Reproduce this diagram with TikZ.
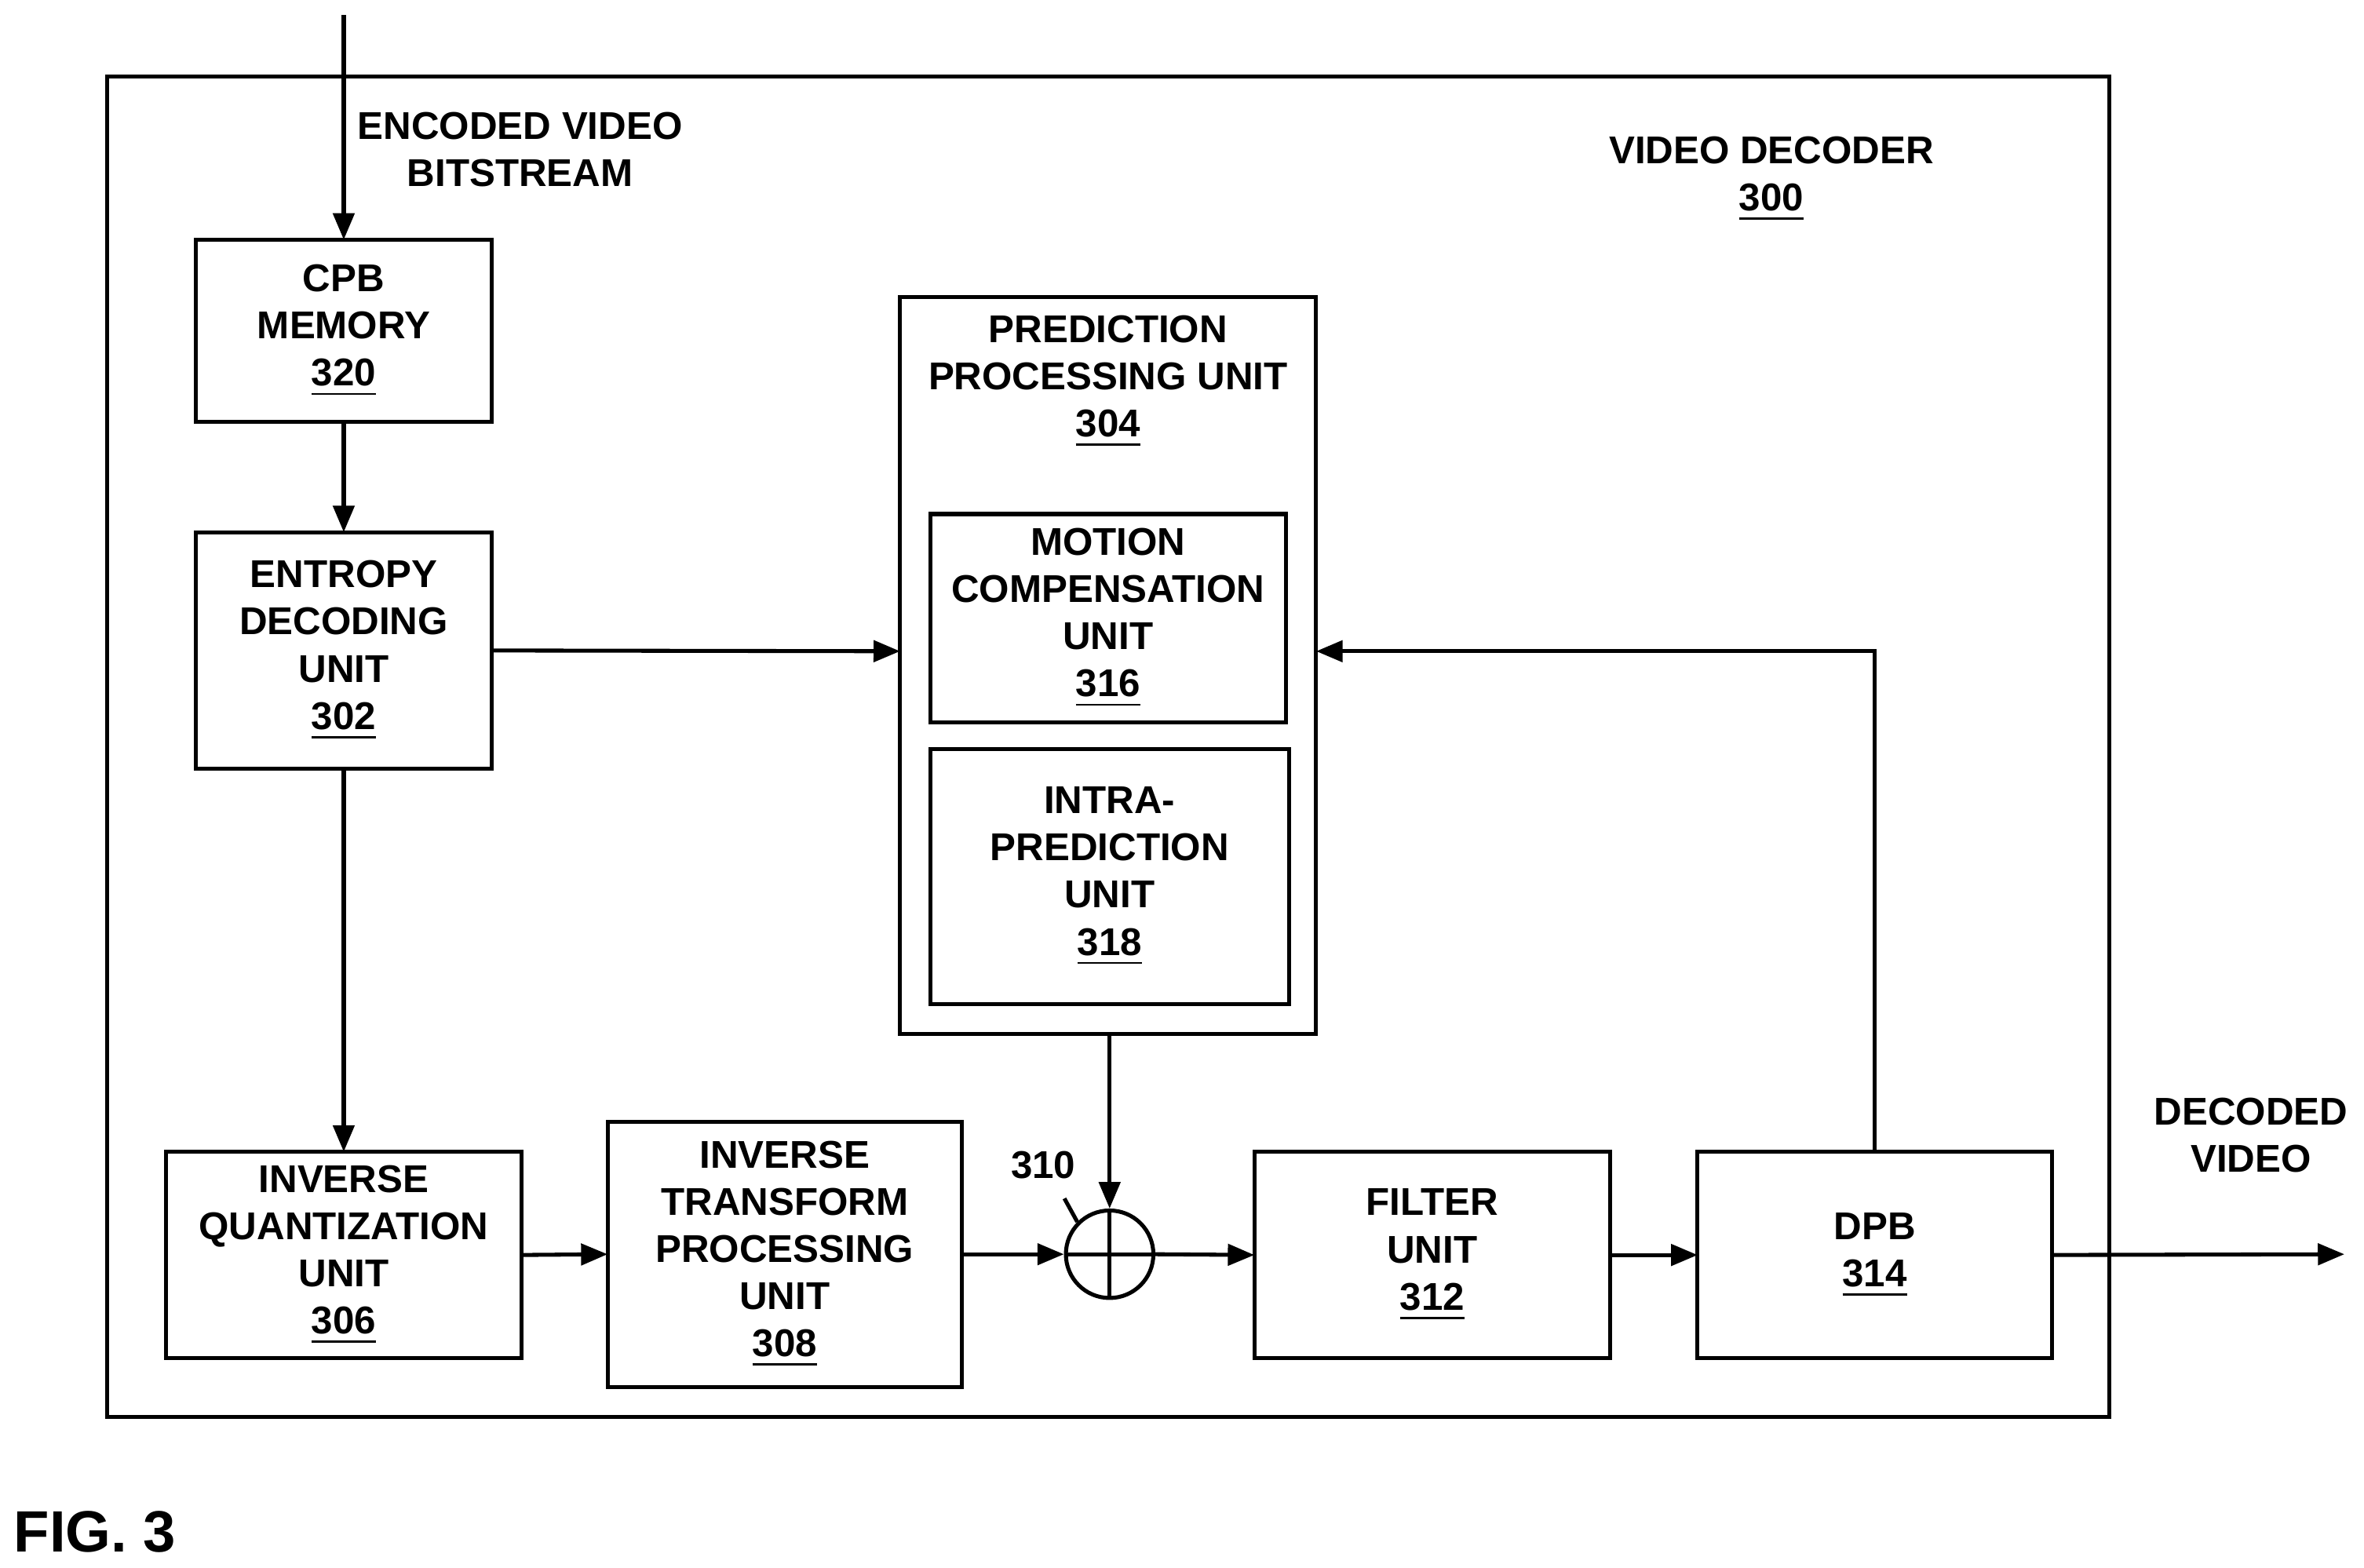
\documentclass[tikz,border=0pt]{standalone}
\usepackage{fontspec}
\setmainfont{Liberation Sans}
\usetikzlibrary{arrows.meta}
\begin{document}
\begin{tikzpicture}[x=0.01cm,y=-0.01cm,
  every node/.style={font=\fontsize{7.3pt}{8.9pt}\selectfont\bfseries, align=center, inner sep=0pt},
  line/.style={line width=0.75pt},
  arr/.style={line width=0.75pt,-{Triangle[length=5pt,width=4pt]}}]
\useasboundingbox (0,0) rectangle (1568,1040);
\newcommand{\bx}[6]{\draw[line] (#2,#3) rectangle (#4,#5); \node (#1) at ({(#2+#4)/2},{(#3+#5)/2}) {#6};
 \coordinate (#1-n) at ({(#2+#4)/2},#3); \coordinate (#1-s) at ({(#2+#4)/2},#5);
 \coordinate (#1-w) at (#2,{(#3+#5)/2}); \coordinate (#1-e) at (#4,{(#3+#5)/2});}
\draw[line] (71,51) rectangle (1399,940);
\bx{cpb}{130}{159}{326}{280}{CPB\\MEMORY\\\underline{320}}
\bx{ent}{130}{353}{326}{510}{ENTROPY\\DECODING\\UNIT\\\underline{302}}
\draw[line] (597,197) rectangle (873,686);
\node (pp) at (735,253) {PREDICTION\\PROCESSING UNIT\\\underline{304}};
\coordinate (pp-s) at (736,686); \coordinate (pp-w) at (597,432); \coordinate (pp-e) at (873,432);
\bx{mc}{617}{341}{853}{479}{MOTION\\COMPENSATION\\UNIT\\\underline{316}}
\bx{ip}{617}{497}{855}{666}{INTRA-\\PREDICTION\\UNIT\\\underline{318}}
\bx{iq}{110}{764}{346}{901}{INVERSE\\QUANTIZATION\\UNIT\\\underline{306}}
\bx{it}{403}{744}{638}{920}{INVERSE\\TRANSFORM\\PROCESSING\\UNIT\\\underline{308}}
\bx{fu}{832}{764}{1068}{901}{FILTER\\UNIT\\\underline{312}}
\bx{dpb}{1126}{764}{1361}{901}{DPB\\\underline{314}}
\node[circle,draw,line width=0.75pt,minimum size=0.58cm] (sum) at (736,832) {};
\draw[line] (sum.north)--(sum.south) (sum.west)--(sum.east);
\node (l310) at (692,773) {310};
\draw[line] (sum.north west) -- (706,795);
\node at (345,99) {ENCODED VIDEO\\BITSTREAM};
\node at (1175,119) {VIDEO DECODER\\\underline{300}};
\node at (1493,753) {DECODED\\VIDEO};
\node[font=\fontsize{11pt}{13pt}\selectfont\bfseries] at (63,1016) {FIG. 3};
\coordinate (in) at (228,10);
\coordinate (out) at (1555,832);
\draw[arr] (in) -- (cpb-n);
\draw[arr] (cpb-s) -- (ent-n);
\draw[arr] (ent-e) -- (pp-w);
\draw[arr] (ent-s) -- (iq-n);
\draw[arr] (iq-e) -- (it-w);
\draw[arr] (it-e) -- (sum.west);
\draw[arr] (pp-s) -- (sum.north);
\draw[arr] (sum.east) -- (fu-w);
\draw[arr] (fu-e) -- (dpb-w);
\draw[arr] (dpb-e) -- (out);
\draw[arr] (dpb-n) |- (pp-e);
\end{tikzpicture}
\end{document}
